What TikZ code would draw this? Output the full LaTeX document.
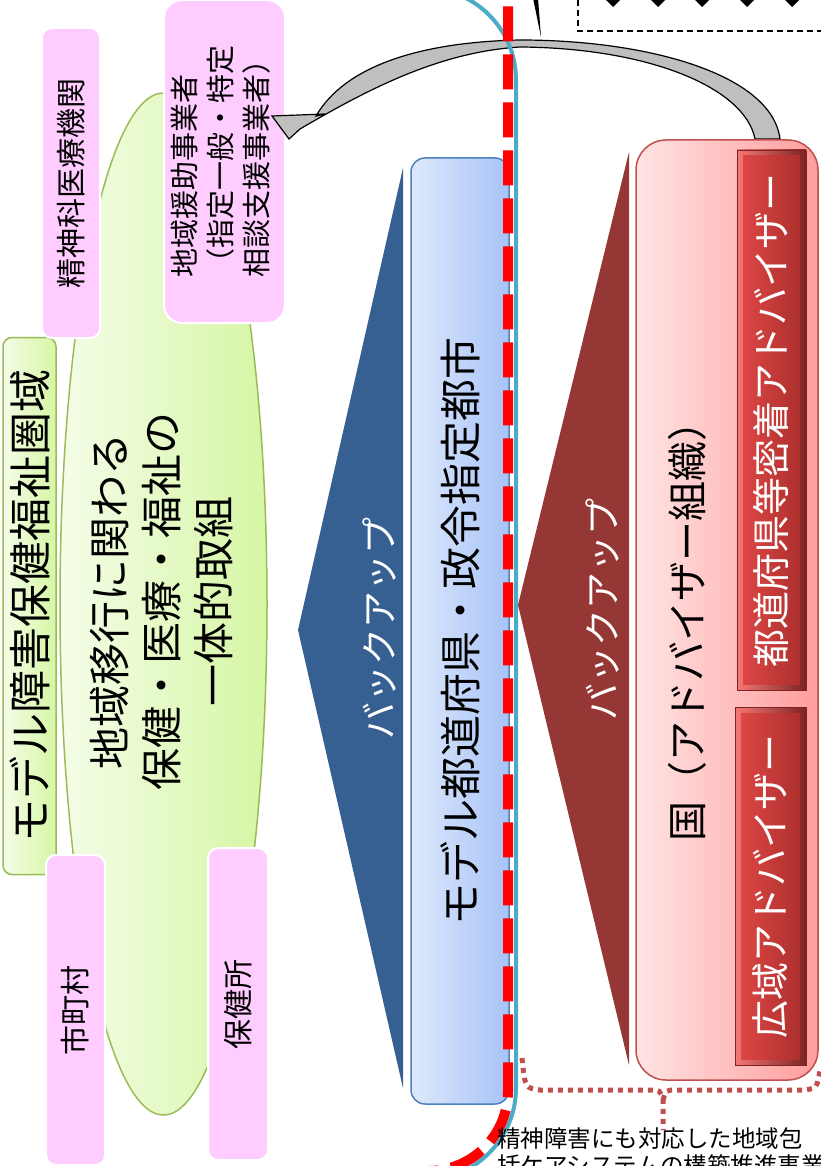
\documentclass[tikz,border=0pt]{standalone}
\usepackage{fontspec}
\setmainfont{Noto Sans CJK JP}
\usepackage{graphicx}
\usetikzlibrary{shapes.geometric}

\definecolor{pinkbg}{HTML}{FFCCFF}
\definecolor{greenl}{HTML}{F4FDE8}
\definecolor{greenr}{HTML}{D6F6A4}
\definecolor{greenln}{HTML}{9BBB59}
\definecolor{navy}{HTML}{376092}
\definecolor{bluel}{HTML}{DEE8FB}
\definecolor{bluer}{HTML}{A6C3F7}
\definecolor{blueln}{HTML}{4F81BD}
\definecolor{aqua}{HTML}{4BACC6}
\definecolor{darkred}{HTML}{953735}
\definecolor{rosel}{HTML}{FFE4E4}
\definecolor{roser}{HTML}{FF9C9C}
\definecolor{roseln}{HTML}{C0504D}
\definecolor{btnl}{HTML}{DC4644}
\definecolor{btnr}{HTML}{AD302E}
\definecolor{bevell}{HTML}{F57775}
\definecolor{bevelr}{HTML}{7C2422}

\begin{document}
\begin{tikzpicture}[x=1pt, y=-1pt,
  pinkbox/.style={rectangle, rounded corners=10, fill=pinkbg, draw=white, line width=2, inner sep=0, font=\fontsize{30}{36}\selectfont},
  greenbox/.style={rectangle, rounded corners=9, left color=greenl, right color=greenr, draw=greenln, line width=1.5, inner sep=0},
  bluebox/.style={rectangle, rounded corners=14, left color=bluel, right color=bluer, draw=blueln, line width=1.5, inner sep=0},
  natbox/.style={rectangle, rounded corners=30, left color=rosel, right color=roser, draw=roseln, line width=1.5, inner sep=0},
  btnface/.style={rectangle, left color=btnl, right color=btnr, inner sep=0, text=white, font=\fontsize{38}{44}\selectfont},
  backtxt/.style={text=white, font=\fontsize{37}{44}\selectfont, inner sep=0},
  bigtxt/.style={font=\fontsize{42}{52}\selectfont, inner sep=0},
  dotbrace/.style={draw=roseln, line width=5, dash pattern=on 5 off 5},
]
\useasboundingbox (0,0) rectangle (821,1166);

% left side: the model area
\node[ellipse, minimum width=207, minimum height=1022, left color=greenl, right color=greenr, draw=greenln, line width=1.5] (ikou) at (163.5,604) {};
\node[bigtxt] (ikoutxt) at (167,601) {\rotatebox{90}{\begin{tabular}{@{}c@{}}地域移行に関わる\\保健・医療・福祉の\\一体的取組\end{tabular}}};
\node[greenbox, minimum width=53, minimum height=537, font=\fontsize{43}{50}\selectfont] (area) at (29.5,606) {\rotatebox{90}{モデル障害保健福祉圏域}};

\node[pinkbox, minimum width=58, minimum height=310] (iryo) at (71,183) {\rotatebox{90}{精神科医療機関}};
\node[pinkbox, rounded corners=18, minimum width=121, minimum height=323, font=\fontsize{29}{36}\selectfont] (enjo) at (224.5,161.5) {\rotatebox{90}{\begin{tabular}{@{}l@{}}地域援助事業者\\（指定一般・特定\\相談支援事業者）\end{tabular}}};
\node[pinkbox, minimum width=59, minimum height=310] (shi) at (75.5,1010) {\rotatebox{90}{市町村}};
\node[pinkbox, minimum width=60, minimum height=312] (hoken) at (238,1004) {\rotatebox{90}{保健所}};

% prefecture
\fill[navy] (403,168) -- (298,630) -- (403,1088) -- cycle;
\node[backtxt] (bu1) at (380,628) {\rotatebox{90}{バックアップ}};
\node[bluebox, minimum width=98, minimum height=946, font=\fontsize{42}{50}\selectfont] (model) at (460,631) {\rotatebox{90}{モデル都道府県・政令指定都市}};

% curved arrow
\filldraw[fill=gray!50, draw=black, line width=1.2]
  (316,116) .. controls (345,66) and (420,42) .. (520,40)
  .. controls (650,40) and (772,75) .. (780,139) -- (755,139)
  .. controls (745,88) and (650,48) .. (520,47)
  .. controls (440,52) and (370,88) .. (300,129)
  -- (289,139) -- (272,116) -- (325,114) -- cycle;

\draw[aqua, line width=4, rounded corners=92] (300,-12) -- (516,-12) -- (516,1180) -- (300,1180);
\draw[red, line width=10, dash pattern=on 35 off 13, rounded corners=80] (300,-300) -- (508,-300) -- (508,1171) -- (300,1171);

% national level
\fill[darkred] (629,152) -- (518,605) -- (629,1065) -- cycle;
\node[backtxt] (bu2) at (603,609) {\rotatebox{90}{バックアップ}};
\node[natbox, minimum width=182, minimum height=940] (kuni) at (727,610) {};
\node[font=\fontsize{40}{48}\selectfont, inner sep=0] (kunitxt) at (687,621) {\rotatebox{90}{国（アドバイザー組織）}};

\shade[left color=bevell, right color=bevelr, draw=bevelr] (737,150) rectangle (806,690);
\node[btnface, minimum width=57, minimum height=528] (mitchaku) at (771.5,420) {\rotatebox{90}{都道府県等密着アドバイザー}};
\shade[left color=bevell, right color=bevelr, draw=bevelr] (735,707) rectangle (806,1065);
\node[btnface, minimum width=59, minimum height=346] (kouiki) at (770.5,886) {\rotatebox{90}{広域アドバイザー}};

% brace and note
\draw[dotbrace] (522,1058) .. controls (525,1088) .. (540,1090) -- (650,1090)
  .. controls (660,1090) .. (663,1100) -- (663,1130);
\draw[dotbrace] (663,1100) .. controls (666,1090) .. (676,1090) -- (805,1090)
  .. controls (817,1088) .. (820,1070);
\node[anchor=north west, align=left, inner sep=0, font=\fontsize{23.5}{27}\selectfont] (note) at (497,1127) {精神障害にも対応した地域包\\括ケアシステムの構築推進事業};

% box at the top right
\draw[black, line width=1.2, dash pattern=on 6 off 4] (578,-50) rectangle (860,31);
\foreach \dx in {613,658,702,747,792}
  \fill (\dx,7) -- ++(8.5,-8.5) -- ++(-8.5,-8.5) -- ++(-8.5,8.5) -- cycle;
\fill (533,-2) -- (538,-2) -- (541,37) -- cycle;

\end{tikzpicture}
\end{document}
